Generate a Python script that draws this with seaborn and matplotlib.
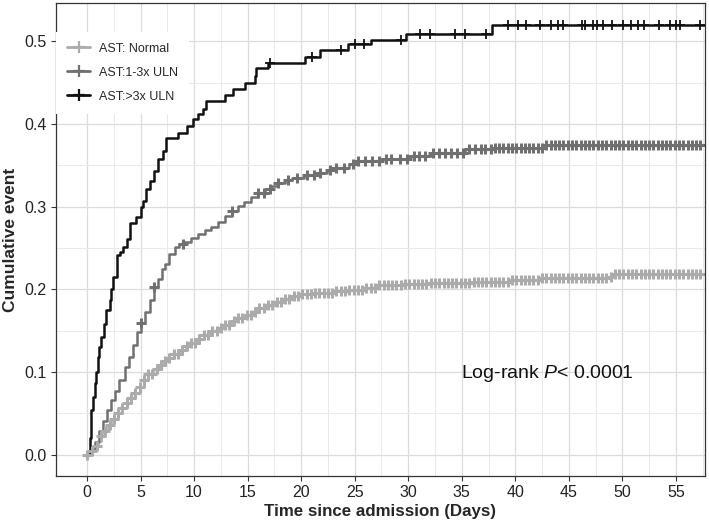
import numpy as np
import pandas as pd
import matplotlib
matplotlib.use("Agg")
import matplotlib.pyplot as plt
from matplotlib.lines import Line2D
import seaborn as sns

groups = ["AST: Normal", "AST:1-3x ULN", "AST:>3x ULN"]
colors = ["#ABABAB", "#707070", "#111111"]

# cumulative event curves (step functions, value holds from each time onward)
normal_t = [0, 0.3, 0.7, 1.0, 1.3, 1.6, 2.0, 2.4, 2.9, 3.3, 3.7, 4.1, 4.5, 4.9, 5.3, 5.7,
            6.2, 6.7, 7.2, 7.6, 8.1, 8.6, 9.2, 9.7, 10.3, 10.9, 11.5, 12.2, 12.8, 13.4,
            14.1, 14.8, 15.4, 16.0, 16.7, 17.4, 18.2, 19.1, 20.0, 21.0, 22.0, 23.0, 24.4,
            25.8, 27.2, 29.5, 32.1, 36.0, 39.6, 42.4, 45.5, 48.7, 49.3, 58]
normal_v = [0, 0.004, 0.010, 0.016, 0.022, 0.028, 0.036, 0.043, 0.050, 0.056, 0.062, 0.068,
            0.074, 0.082, 0.090, 0.097, 0.103, 0.108, 0.113, 0.117, 0.122, 0.127, 0.131,
            0.135, 0.140, 0.145, 0.149, 0.153, 0.157, 0.161, 0.165, 0.169, 0.173, 0.177,
            0.181, 0.185, 0.188, 0.192, 0.194, 0.195, 0.196, 0.198, 0.199, 0.202, 0.205,
            0.206, 0.208, 0.209, 0.211, 0.213, 0.214, 0.215, 0.218, 0.218]

mid_t = [0, 0.3, 0.7, 1.1, 1.5, 1.9, 2.25, 2.6, 3.0, 3.5, 3.9, 4.3, 4.7, 5.0, 5.4, 5.9, 6.3,
         6.6, 7.0, 7.3, 7.7, 8.2, 8.6, 9.1, 9.7, 10.4, 11.0, 11.6, 12.2, 12.9, 13.5, 14.1,
         14.7, 15.3, 16.0, 16.6, 17.2, 17.8, 18.5, 19.1, 20.3, 21.6, 22.4, 23.2, 24.5, 25.3,
         27.5, 30.0, 32.1, 35.3, 37.8, 42.8, 58]
mid_v = [0, 0.004, 0.015, 0.028, 0.040, 0.054, 0.066, 0.077, 0.090, 0.106, 0.118, 0.132,
         0.148, 0.159, 0.172, 0.187, 0.203, 0.212, 0.224, 0.231, 0.242, 0.251, 0.255, 0.257,
         0.262, 0.267, 0.271, 0.275, 0.281, 0.289, 0.295, 0.301, 0.306, 0.311, 0.316, 0.321,
         0.325, 0.329, 0.332, 0.335, 0.338, 0.341, 0.344, 0.346, 0.352, 0.355, 0.357, 0.361,
         0.365, 0.370, 0.371, 0.374, 0.374]

high_t = [0, 0.3, 0.4, 0.55, 0.7, 0.85, 1.0, 1.15, 1.3, 1.55, 1.8, 2.1, 2.25, 2.4, 2.8, 3.1,
          3.4, 3.7, 4.0, 4.6, 5.0, 5.2, 5.5, 5.9, 6.3, 6.6, 7.1, 7.4, 8.5, 9.3, 9.9, 10.4,
          10.8, 11.1, 12.9, 13.6, 14.8, 15.7, 15.8, 16.9, 20.4, 21.8, 24.4, 26.5, 29.8,
          37.8, 58]
high_v = [0, 0.02, 0.054, 0.07, 0.087, 0.10, 0.118, 0.13, 0.142, 0.158, 0.175, 0.187, 0.20,
          0.215, 0.241, 0.245, 0.251, 0.261, 0.28, 0.287, 0.299, 0.307, 0.321, 0.331, 0.343,
          0.358, 0.367, 0.383, 0.389, 0.397, 0.406, 0.412, 0.418, 0.428, 0.435, 0.442, 0.449,
          0.458, 0.467, 0.474, 0.481, 0.489, 0.496, 0.502, 0.509, 0.52, 0.52]

# censoring times
normal_cens = [0.0, 0.5, 0.9, 1.3, 1.7, 2.1, 2.5, 2.9, 3.3, 3.7, 4.1, 4.5, 4.9, 5.3, 5.7,
               6.1, 6.5, 6.9, 7.3, 7.7, 8.1, 8.5, 8.9, 9.3, 9.7, 10.1, 10.5, 10.9, 11.3,
               11.7, 12.1, 12.5, 12.9, 13.3, 13.7, 14.1, 14.5, 14.9, 15.3, 15.7, 16.1, 16.5,
               16.9, 17.3, 17.7, 18.1, 18.5, 18.9, 19.3, 19.7, 20.1, 20.5, 20.9, 21.3, 21.7,
               22.1, 22.5, 22.9, 23.3, 23.7, 24.1, 24.5, 24.9, 25.3, 25.7, 26.1, 26.5, 26.9,
               27.3, 27.7, 28.1, 28.5, 28.9, 29.3, 29.7, 30.1, 30.5, 30.9, 31.3, 31.7, 32.1,
               32.5, 32.9, 33.3, 33.7, 34.1, 34.5, 34.9, 35.3, 35.7, 36.1, 36.5, 36.9, 37.3,
               37.7, 38.1, 38.5, 38.9, 39.3, 39.7, 40.1, 40.5, 40.9, 41.3, 41.7, 42.1, 42.5,
               42.9, 43.3, 43.7, 44.1, 44.5, 44.9, 45.3, 45.7, 46.1, 46.5, 46.9, 47.3, 47.7,
               48.1, 48.5, 48.9, 49.3, 49.7, 50.1, 50.5, 50.9, 51.3, 51.7, 52.1, 52.5, 52.9,
               53.3, 53.7, 54.1, 54.5, 54.9, 55.3, 55.7, 56.1, 56.5, 56.9, 57.3]
mid_cens = [5.0, 6.3, 9.0, 13.5, 16.0, 16.5, 17.1, 17.8, 18.8, 19.6, 20.5, 21.2, 21.8, 22.7,
            23.3, 24.0, 24.8, 25.3, 26.0, 26.6, 27.3, 27.9, 28.4, 29.2, 29.9, 30.5, 31.0,
            31.6, 32.3, 32.9, 33.4, 34.0, 34.6, 35.1, 35.7, 36.2, 36.8, 37.2, 37.7, 38.1,
            38.5, 38.9, 39.3, 39.7, 40.1, 40.5, 40.9, 41.3, 41.7, 42.1, 42.5, 42.9, 43.3,
            43.7, 44.1, 44.5, 44.9, 45.3, 45.7, 46.1, 46.5, 46.9, 47.3, 47.7, 48.1, 48.5,
            48.9, 49.3, 49.7, 50.1, 50.5, 50.9, 51.3, 51.7, 52.1, 52.5, 52.9, 53.3, 53.7,
            54.1, 54.5, 54.9, 55.3, 55.7, 56.1, 56.5, 56.9, 57.3]
high_cens = [17.1, 21.0, 23.7, 25.0, 25.9, 29.3, 31.1, 32.0, 34.4, 35.3, 37.3, 39.3, 40.3,
             41.0, 42.3, 43.3, 44.0, 44.5, 46.2, 46.5, 47.3, 47.6, 48.2, 49.0, 50.1, 50.8,
             51.5, 52.0, 53.4, 54.5, 55.0, 55.4, 57.3]

curves = [(normal_t, normal_v, normal_cens), (mid_t, mid_v, mid_cens), (high_t, high_v, high_cens)]

rows = []
for g, (t, v, _) in zip(groups, curves):
    for ti, vi in zip(t, v):
        rows.append((g, ti, vi))
df = pd.DataFrame(rows, columns=["group", "time", "cum"])

sns.set_style("whitegrid")
plt.rcParams["font.family"] = ["Liberation Sans", "DejaVu Sans"]
plt.rcParams["mathtext.fontset"] = "custom"
plt.rcParams["mathtext.it"] = "Liberation Sans:italic"
plt.rcParams["mathtext.rm"] = "Liberation Sans"

fig = plt.figure(figsize=(7.09, 5.26), dpi=100)
ax = fig.add_axes([0.079, 0.095, 0.915, 0.899])

sns.lineplot(data=df, x="time", y="cum", hue="group", hue_order=groups,
             palette=colors, drawstyle="steps-post", estimator=None,
             linewidth=1.8, legend=False, ax=ax)

for (t, v, cens), col, g in zip(curves, colors, groups):
    idx = np.searchsorted(t, cens, side="right") - 1
    cy = np.array(v)[idx]
    mew = 1.3 if g == groups[2] else 2.2
    ax.plot(cens, cy, linestyle="none", marker="+", markersize=7.5, mew=mew, color=col)

ax.set_xlim(-2.9, 57.7)
ax.set_ylim(-0.026, 0.546)
ax.set_xticks(np.arange(0, 56, 5))
ax.set_xticks(np.arange(2.5, 58, 5), minor=True)
ax.set_yticks([0, 0.1, 0.2, 0.3, 0.4, 0.5])
ax.set_yticks([0.05, 0.15, 0.25, 0.35, 0.45], minor=True)
ax.set_yticklabels(["0.0", "0.1", "0.2", "0.3", "0.4", "0.5"])
ax.grid(which="major", color="#DCDCDC", linewidth=0.9)
ax.grid(which="minor", color="#E9E9E9", linewidth=0.7)
ax.set_axisbelow(True)
for s in ax.spines.values():
    s.set_color("#333333")
    s.set_linewidth(0.9)
ax.tick_params(which="major", direction="out", length=3.5, width=0.8, color="#333333",
               labelsize=11.5, labelcolor="#222222", left=True, bottom=True, pad=3)
ax.tick_params(which="minor", length=0)

ax.set_xlabel("Time since admission (Days)", fontsize=12.2, fontweight="bold", labelpad=3)
ax.set_ylabel("Cumulative event", fontsize=12.5, fontweight="bold", labelpad=5)

ax.text(34.9, 0.098, r"Log-rank $P$< 0.0001", fontsize=14, va="center", ha="left",
        color="#111111")

handles = [Line2D([], [], color=c, lw=2, marker="+", markersize=8, mew=1.6) for c in colors]
leg = ax.legend(handles, groups, loc="upper left", bbox_to_anchor=(0.0, 0.94),
                borderaxespad=0, borderpad=0.9, handlelength=1.8, handletextpad=0.7,
                labelspacing=0.95, fontsize=9, frameon=True, facecolor="white",
                edgecolor="none", framealpha=1, fancybox=False)

fig.savefig("out.png", dpi=100)
